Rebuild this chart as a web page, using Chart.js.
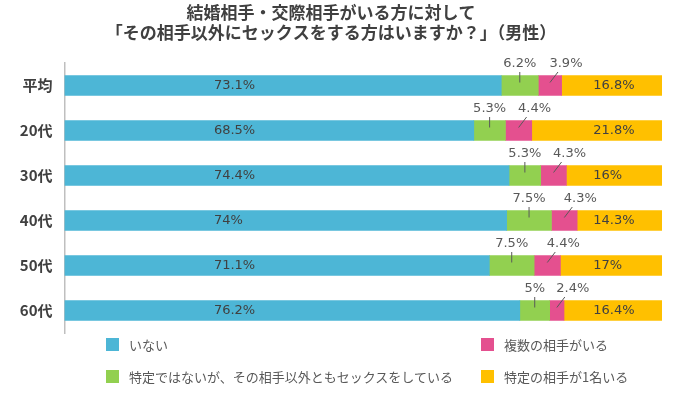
<!DOCTYPE html>
<html>
<head>
<meta charset="utf-8">
<script src="https://cdn.jsdelivr.net/npm/chart.js@4"></script>
<style>
  html, body { margin: 0; padding: 0; background: #ffffff; }
  #wrap { position: relative; width: 675px; height: 400px; }
  #legend { position: absolute; left: 0; top: 0; width: 675px; height: 400px; pointer-events: none; }
  .item { position: absolute; display: flex; align-items: center; font-family: "Noto Sans CJK JP", "Noto Sans", sans-serif; font-size: 13px; color: #595959; white-space: nowrap; height: 16px; }
  .sw { width: 13px; height: 13px; margin-right: 10px; flex: none; }
</style>
</head>
<body>
<div id="wrap">
  <canvas id="c"></canvas>
  <div id="legend"></div>
</div>
<script>
const titleLines = ['結婚相手・交際相手がいる方に対して', '「その相手以外にセックスをする方はいますか？」（男性）'];
const categories = ['平均', '20代', '30代', '40代', '50代', '60代'];
const seriesNames = ['いない', '特定ではないが、その相手以外ともセックスをしている', '複数の相手がいる', '特定の相手が1名いる'];
const noneValues = [73.1, 68.5, 74.4, 74, 71.1, 76.2];
const unspecifiedValues = [6.2, 5.3, 5.3, 7.5, 7.5, 5];
const multipleValues = [3.9, 4.4, 4.3, 4.3, 4.4, 2.4];
const oneValues = [16.8, 21.8, 16, 14.3, 17, 16.4];
const seriesColors = ['#4db6d6', '#92d050', '#e4508f', '#ffc000'];

const labelModes = [
  { mode: 'insideAt', at: 25 },
  { mode: 'above', dx: 0, lineDx: 0 },
  { mode: 'above', dx: 16, lineDx: 8 },
  { mode: 'insideAt', at: 88.5 }
];

const seriesValues = [noneValues, unspecifiedValues, multipleValues, oneValues];

const datasets = seriesValues.map((vals, i) => ({
  label: seriesNames[i],
  data: vals,
  backgroundColor: seriesColors[i],
  borderWidth: 0,
  barThickness: 20
}));

const labelPlugin = {
  id: 'segLabels',
  afterDatasetsDraw(chart) {
    const ctx = chart.ctx;
    const xs = chart.scales.x;
    ctx.save();
    ctx.font = '13px "DejaVu Sans", Verdana, sans-serif';
    ctx.textBaseline = 'middle';
    chart.data.datasets.forEach((ds, di) => {
      const meta = chart.getDatasetMeta(di);
      const cfg = labelModes[di];
      meta.data.forEach((bar, i) => {
        const txt = ds.data[i] + '%';
        const left = Math.min(bar.x, bar.base);
        const right = Math.max(bar.x, bar.base);
        const cx = (left + right) / 2;
        const cy = bar.y;
        if (cfg.mode === 'insideAt') {
          ctx.fillStyle = '#404040';
          ctx.textAlign = 'left';
          ctx.fillText(txt, xs.getPixelForValue(cfg.at), cy + 0.5);
        } else {
          ctx.fillStyle = '#595959';
          ctx.textAlign = 'center';
          ctx.fillText(txt, cx + cfg.dx, cy - 22);
          ctx.strokeStyle = '#595959';
          ctx.lineWidth = 1;
          ctx.beginPath();
          ctx.moveTo(cx + cfg.lineDx, cy - 13.5);
          ctx.lineTo(cx, cy - 3);
          ctx.stroke();
        }
      });
    });
    ctx.restore();
  }
};

new Chart(document.getElementById('c'), {
  type: 'bar',
  data: { labels: categories, datasets: datasets },
  options: {
    indexAxis: 'y',
    responsive: true,
    maintainAspectRatio: false,
    animation: false,
    layout: { padding: { left: 0, right: 13, top: 3, bottom: 67 } },
    plugins: {
      legend: { display: false },
      tooltip: { enabled: false },
      title: {
        display: true,
        text: titleLines,
        color: '#404040',
        font: { family: '"Noto Sans CJK JP", "Noto Sans", sans-serif', size: 17, weight: 'bold', lineHeight: '20px' },
        padding: { top: 0, bottom: 20 }
      }
    },
    scales: {
      x: { stacked: true, min: 0, max: 100, display: false },
      y: {
        stacked: true,
        afterFit(scale) { scale.width = 64.5; },
        grid: { display: false, drawTicks: false },
        border: { display: true, color: '#bfbfbf', width: 1.5 },
        ticks: {
          padding: 12,
          color: '#404040',
          font: { family: '"Noto Sans CJK JP", "Noto Sans", sans-serif', size: 15, weight: 'bold' }
        }
      }
    }
  },
  plugins: [labelPlugin]
});

const legendPos = [
  { left: 106, top: 336 },
  { left: 106, top: 368 },
  { left: 481, top: 336 },
  { left: 481, top: 368 }
];
const legendEl = document.getElementById('legend');
seriesNames.forEach((name, i) => {
  const it = document.createElement('div');
  it.className = 'item';
  it.style.left = legendPos[i].left + 'px';
  it.style.top = legendPos[i].top + 'px';
  const sw = document.createElement('span');
  sw.className = 'sw';
  sw.style.background = seriesColors[i];
  const tx = document.createElement('span');
  tx.textContent = name;
  it.appendChild(sw);
  it.appendChild(tx);
  legendEl.appendChild(it);
});
</script>
</body>
</html>
